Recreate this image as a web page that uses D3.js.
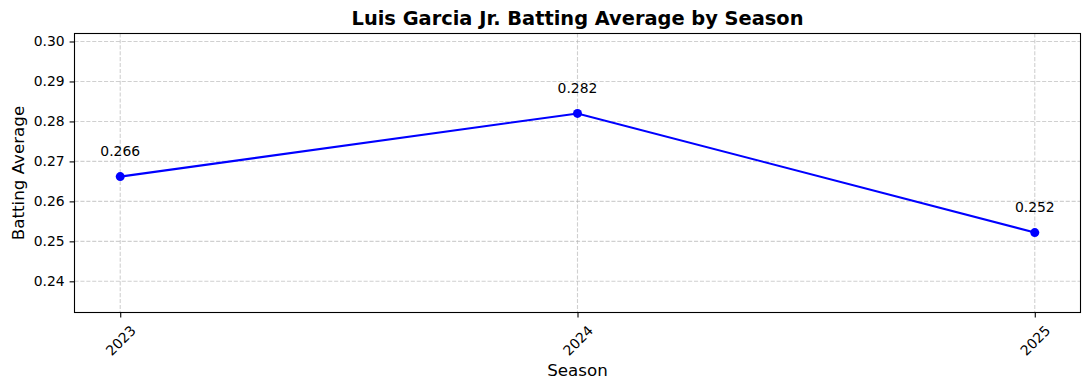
<!DOCTYPE html>
<html>
<head>
<meta charset="utf-8">
<script src="https://cdn.jsdelivr.net/npm/d3@7"></script>
<style>
  body { margin: 0; background: #fff; }
  text { font-family: "DejaVu Sans", sans-serif; }
</style>
</head>
<body>
<div id="chart"></div>
<script>
const seasons = [2023, 2024, 2025];
const battingAvg = [0.2662, 0.282, 0.2522];
const yTicks = [0.24, 0.25, 0.26, 0.27, 0.28, 0.29, 0.30];

const width = 1089;
const height = 390;
const margin = { left: 74.5, top: 33.5, right: 8.5, bottom: 77.5 };
const tickFont = 13.9;

const svg = d3.select("#chart")
    .append("svg")
    .attr("width", width)
    .attr("height", height);

// matplotlib-like limits: 5% x margin, +/- 0.02 on y
const x = d3.scaleLinear()
    .domain([2023 - 0.1, 2025 + 0.1])
    .range([margin.left, width - margin.right]);
const y = d3.scaleLinear()
    .domain([d3.min(battingAvg) - 0.02, d3.max(battingAvg) + 0.02])
    .range([height - margin.bottom, margin.top]);

const plotB = height - margin.bottom;
const plotR = width - margin.right;

// grid
const grid = svg.append("g")
    .attr("stroke", "#b0b0b0")
    .attr("stroke-opacity", 0.6)
    .attr("stroke-width", 1.1)
    .attr("stroke-dasharray", "4.1,1.8");
grid.selectAll(".gx").data(seasons).join("line")
    .attr("x1", d => x(d)).attr("x2", d => x(d))
    .attr("y1", margin.top).attr("y2", plotB);
grid.selectAll(".gy").data(yTicks).join("line")
    .attr("x1", margin.left).attr("x2", plotR)
    .attr("y1", d => y(d)).attr("y2", d => y(d));

// axes
const yAxis = svg.append("g")
    .attr("transform", `translate(${margin.left},0)`)
    .call(d3.axisLeft(y).tickValues(yTicks).tickFormat(d3.format(".2f"))
        .tickSize(4.9).tickPadding(4.9));
yAxis.select(".domain").remove();
yAxis.selectAll("text").attr("font-size", tickFont).attr("fill", "#000")
    .style("font-family", "DejaVu Sans");
yAxis.selectAll("line").attr("stroke", "#000").attr("stroke-width", 1.1);

const xAxis = svg.append("g")
    .attr("transform", `translate(0,${plotB})`)
    .call(d3.axisBottom(x).tickValues(seasons).tickFormat(d3.format("d"))
        .tickSize(4.9));
xAxis.select(".domain").remove();
xAxis.selectAll("line").attr("stroke", "#000").attr("stroke-width", 1.1);
// rotate 45 with the rotated box centred under the tick
xAxis.selectAll("text")
    .attr("font-size", tickFont).attr("fill", "#000")
    .style("font-family", "DejaVu Sans")
    .attr("y", 0).attr("dy", null)
    .attr("dominant-baseline", "central")
    .attr("text-anchor", "middle")
    .attr("transform", function () {
        const w = this.getComputedTextLength();
        const h = tickFont * 1.17;
        const bh = (w + h) * Math.SQRT1_2;
        return `translate(0,${4.9 + 4.9 + bh / 2}) rotate(-45)`;
    });

// spines
svg.append("rect")
    .attr("x", margin.left).attr("y", margin.top)
    .attr("width", plotR - margin.left).attr("height", plotB - margin.top)
    .attr("fill", "none").attr("stroke", "#000").attr("stroke-width", 1.1);

// line + markers
const pts = seasons.map((s, i) => [s, battingAvg[i]]);
svg.append("path")
    .datum(pts)
    .attr("fill", "none")
    .attr("stroke", "#0000ff")
    .attr("stroke-width", 2.08)
    .attr("d", d3.line().x(d => x(d[0])).y(d => y(d[1])));
svg.selectAll(".pt").data(pts).join("circle")
    .attr("cx", d => x(d[0])).attr("cy", d => y(d[1]))
    .attr("r", 4.5).attr("fill", "#0000ff");

// value labels
svg.selectAll(".lbl").data(pts).join("text")
    .attr("x", d => x(d[0]))
    .attr("y", d => y(d[1]) - 20.8)
    .attr("text-anchor", "middle")
    .attr("font-size", tickFont)
    .text(d => d3.format(".3f")(d[1]));

// titles
svg.append("text")
    .attr("x", (margin.left + plotR) / 2).attr("y", 25)
    .attr("text-anchor", "middle")
    .attr("font-size", 19.4).attr("font-weight", "bold")
    .text("Luis Garcia Jr. Batting Average by Season");
svg.append("text")
    .attr("x", (margin.left + plotR) / 2).attr("y", 376)
    .attr("text-anchor", "middle")
    .attr("font-size", 16.7)
    .text("Season");
svg.append("text")
    .attr("transform", `translate(24,${(margin.top + plotB) / 2}) rotate(-90)`)
    .attr("text-anchor", "middle")
    .attr("font-size", 16.7)
    .text("Batting Average");
</script>
</body>
</html>
